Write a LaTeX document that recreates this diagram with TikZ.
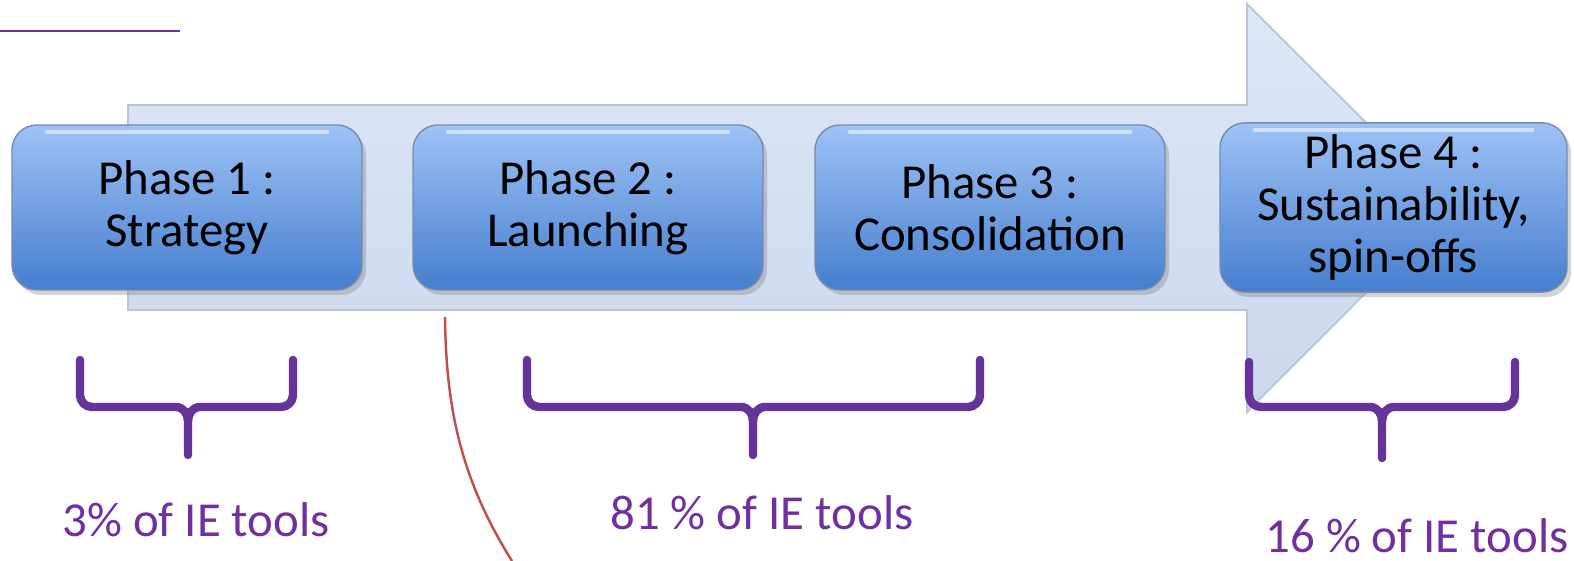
\documentclass[tikz,border=0pt]{standalone}
\usepackage{fontspec}
\setmainfont{Carlito}
\usepackage{tikz}
\usetikzlibrary{shadows}
\definecolor{ieviolet}{RGB}{112,48,160}
\definecolor{bracevio}{RGB}{102,51,153}
\definecolor{curvered}{RGB}{192,80,77}
\definecolor{phtop}{RGB}{158,194,246}
\definecolor{phbot}{RGB}{70,126,206}
\definecolor{phedge}{RGB}{120,140,170}
\definecolor{arrtop}{RGB}{221,231,248}
\definecolor{arrbot}{RGB}{203,215,236}
\definecolor{arredge}{RGB}{184,195,212}
\tikzstyle{phase}=[rectangle, rounded corners=.25cm, minimum width=3.5cm, minimum height=1.65cm,
  top color=phtop, bottom color=phbot, draw=phedge, line width=.4pt, align=center,
  font=\fontsize{13.9}{14.8}\selectfont,
  drop shadow={opacity=.35, shadow xshift=.04cm, shadow yshift=-.05cm},
  path picture={\draw[white, opacity=.55, line width=1.3pt, line cap=round]
    ([xshift=.35cm,yshift=-.07cm]path picture bounding box.north west) --
    ([xshift=-.35cm,yshift=-.07cm]path picture bounding box.north east);}]
\tikzstyle{brace}=[draw=bracevio, line width=2.4pt, line cap=round, line join=round]
\tikzstyle{share}=[text=ieviolet, anchor=base, font=\fontsize{13.9}{14.8}\selectfont]

\begin{document}
\begin{tikzpicture}
      \useasboundingbox (0,0) rectangle (15.74,5.61);

      \draw[ieviolet, line width=.8pt] (0,5.30) -- (1.80,5.30);

      % big arrow
      \draw[top color=arrtop, bottom color=arrbot, draw=arredge, line width=.5pt]
        (1.28,4.56) -- (12.47,4.56) -- (12.47,5.57) -- (14.51,3.535)
        -- (12.47,1.49) -- (12.47,2.51) -- (1.28,2.51) -- cycle;

      \node[phase] (p1) at (1.87,3.535) {Phase 1 :\\ Strategy};
      \node[phase] (p2) at (5.88,3.535) {Phase 2 :\\ Launching};
      \node[phase] (p3) at (9.90,3.535) {Phase 3 :\\ Consolidation};
      \node[phase, minimum width=3.47cm] (p4) at (13.935,3.535) {Phase 4 :\\ Sustainability,\\ spin-offs};

      \draw[curvered, line width=.7pt] (4.45,2.44) .. controls (4.46,1.5) and (4.62,0.8) .. (5.12,0);

      % braces
      \draw[brace] (0.80,2.01) -- (0.80,1.66) to[out=-90,in=180] (0.92,1.54) -- (1.76,1.54)
        to[out=0,in=90] (1.88,1.40) -- (1.88,1.06);
      \draw[brace] (2.93,2.01) -- (2.93,1.66) to[out=-90,in=0] (2.81,1.54) -- (2.00,1.54)
        to[out=180,in=90] (1.88,1.40);

      \draw[brace] (5.27,2.01) -- (5.27,1.66) to[out=-90,in=180] (5.39,1.54) -- (7.41,1.54)
        to[out=0,in=90] (7.53,1.40) -- (7.53,1.06);
      \draw[brace] (9.80,2.01) -- (9.80,1.66) to[out=-90,in=0] (9.68,1.54) -- (7.65,1.54)
        to[out=180,in=90] (7.53,1.40);

      \draw[brace] (12.49,1.99) -- (12.49,1.66) to[out=-90,in=180] (12.61,1.54) -- (13.70,1.54)
        to[out=0,in=90] (13.82,1.40) -- (13.82,1.03);
      \draw[brace] (15.15,1.99) -- (15.15,1.66) to[out=-90,in=0] (15.03,1.54) -- (13.94,1.54)
        to[out=180,in=90] (13.82,1.40);

      \node[share] (s1) at (1.96,0.24) {3\% of IE tools};
      \node[share] (s2) at (7.62,0.31) {81 \% of IE tools};
      \node[share] (s3) at (14.17,0.08) {16 \% of IE tools};
    \end{tikzpicture}
\end{document}
